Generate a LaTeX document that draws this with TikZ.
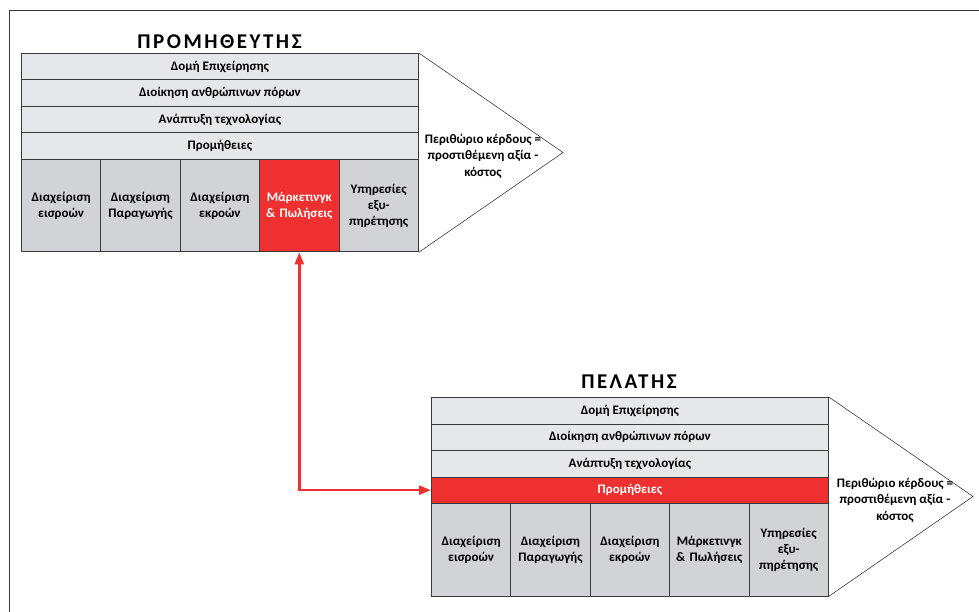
\documentclass[tikz,border=0pt]{standalone}
\usepackage{fontspec}
\setmainfont{Carlito}
\newfontfamily\titlefont[LetterSpace=12]{Carlito}
\usetikzlibrary{arrows.meta}

\definecolor{rowgray}{HTML}{E6E7E8}
\definecolor{colgray}{HTML}{D1D3D4}
\definecolor{hotred}{HTML}{EE3130}
\definecolor{linegray}{HTML}{3A3A3A}

\tikzset{
  row/.style={draw=linegray, line width=0.8pt, fill=rowgray, anchor=north west,
    minimum width=397pt, minimum height=26.5pt, inner sep=0pt, font=\bfseries\fontsize{13}{14}\selectfont},
  col/.style={draw=linegray, line width=0.8pt, fill=colgray, anchor=north west,
    minimum width=79.4pt, minimum height=92.5pt, inner sep=0pt, text width=78pt, align=center,
    font=\bfseries\fontsize{13}{16}\selectfont},
  hot/.style={fill=hotred, text=white},
  margin/.style={align=center, font=\bfseries\fontsize{13}{16.5}\selectfont},
  title/.style={font=\titlefont\bfseries\fontsize{21}{23}\selectfont},
  link/.style={draw=hotred, line width=2.4pt, {Triangle[length=12pt,width=9pt]}-{Triangle[length=12pt,width=9pt]}}
}

\begin{document}
\begin{tikzpicture}[x=1pt, y=-1pt]
  \useasboundingbox (0,0) rectangle (979,612);

  % Πλαίσιο
  \draw[linegray, line width=1pt] (979,11) -- (9,11) -- (9,612);

  % Προμηθευτής
  \node[title] (tp) at (219.5,42) {ΠΡΟΜΗΘΕΥΤΗΣ};
  \node[row] (d1) at (21,53) {Δομή Επιχείρησης};
  \node[row] (a1) at (21,79.5) {Διοίκηση ανθρώπινων πόρων};
  \node[row] (t1) at (21,106) {Ανάπτυξη τεχνολογίας};
  \node[row] (p1) at (21,132.5) {Προμήθειες};
  \node[col] (c11) at (21,159) {Διαχείριση\\εισροών};
  \node[col] (c12) at (100.4,159) {Διαχείριση\\Παραγωγής};
  \node[col] (c13) at (179.8,159) {Διαχείριση\\εκροών};
  \node[col, hot] (c14) at (259.2,159) {Μάρκετινγκ\\\& Πωλήσεις};
  \node[col] (c15) at (338.6,159) {Υπηρεσίες\\εξυ-\\πηρέτησης};
  \coordinate (tip1) at (563,152.5);
  \draw[linegray, line width=0.6pt] (d1.north east) -- (tip1) -- (c15.south east);
  \node[margin] (m1) at (483,156) {Περιθώριο κέρδους =\\προστιθέμενη αξία -\\κόστος};

  % Πελάτης
  \node[title] (tc) at (629,382) {ΠΕΛΑΤΗΣ};
  \node[row] (d2) at (431,397) {Δομή Επιχείρησης};
  \node[row] (a2) at (431,423.5) {Διοίκηση ανθρώπινων πόρων};
  \node[row] (t2) at (431,450) {Ανάπτυξη τεχνολογίας};
  \node[row, hot] (p2) at (431,476.5) {Προμήθειες};
  \node[col] (c21) at (431,503) {Διαχείριση\\εισροών};
  \node[col] (c22) at (510.4,503) {Διαχείριση\\Παραγωγής};
  \node[col] (c23) at (589.8,503) {Διαχείριση\\εκροών};
  \node[col] (c24) at (669.2,503) {Μάρκετινγκ\\\& Πωλήσεις};
  \node[col] (c25) at (748.6,503) {Υπηρεσίες\\εξυ-\\πηρέτησης};
  \coordinate (tip2) at (973,496.5);
  \draw[linegray, line width=0.6pt] (d2.north east) -- (tip2) -- (c25.south east);
  \node[margin] (m2) at (895,500) {Περιθώριο κέρδους =\\προστιθέμενη αξία -\\κόστος};

  % Σύνδεση
  \draw[link] (c14.south) |- (p2.west);
\end{tikzpicture}
\end{document}
